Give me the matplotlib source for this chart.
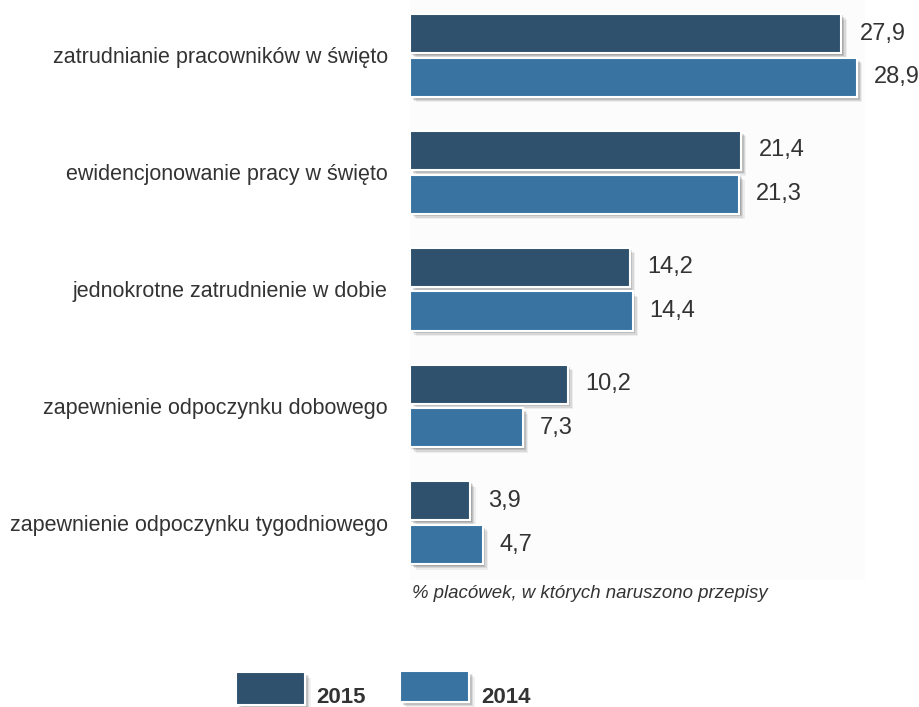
import matplotlib
matplotlib.use("Agg")
import matplotlib.pyplot as plt
import matplotlib.patheffects as pe
from matplotlib.patches import Rectangle
import numpy as np

plt.rcParams['font.family'] = ['Liberation Sans', 'DejaVu Sans']

categories = [
    "zatrudnianie pracowników w święto",
    "ewidencjonowanie pracy w święto",
    "jednokrotne zatrudnienie w dobie",
    "zapewnienie odpoczynku dobowego",
    "zapewnienie odpoczynku tygodniowego",
]
values_2015 = [27.9, 21.4, 14.2, 10.2, 3.9]
values_2014 = [28.9, 21.3, 14.4, 7.3, 4.7]
series_labels = ["2015", "2014"]
note = "% placówek, w których naruszono przepisy"

color_2015 = "#2f516d"
color_2014 = "#3873a1"
text_color = "#333333"

W, H = 920, 707
fig = plt.figure(figsize=(W / 100, H / 100), dpi=100)
fig.patch.set_facecolor("white")

# axes placed in pixel terms
ax_left, ax_right, ax_top, ax_bottom = 410, 865, 0, 580
ax = fig.add_axes([ax_left / W, 1 - ax_bottom / H,
                   (ax_right - ax_left) / W, (ax_bottom - ax_top) / H])
ax.set_facecolor("#fcfcfc")
ax.set_xlim(0, (ax_right - ax_left) / 15.46)
ax.set_ylim(4.49, -0.475)

y = np.arange(len(categories))
bar_h = 0.335
off = 0.187

# soft drop shadow built from a few stacked offsets
shadow = [pe.SimplePatchShadow(offset=(d, -d), shadow_rgbFace="black", alpha=a)
          for d, a in ((4, 0.06), (3, 0.09), (2, 0.12), (1, 0.12))] + [pe.Normal()]

b15 = ax.barh(y - off, values_2015, height=bar_h, color=color_2015,
              edgecolor="white", linewidth=1.5)
b14 = ax.barh(y + off, values_2014, height=bar_h, color=color_2014,
              edgecolor="white", linewidth=1.5)
for bar in list(b15) + list(b14):
    bar.set_path_effects(shadow)

def fmt(v):
    return f"{v:.1f}".replace(".", ",")

for yy, v in zip(y - off, values_2015):
    ax.annotate(fmt(v), (v, yy), xytext=(13, 0), textcoords="offset points",
                va="center", ha="left", fontsize=17, color=text_color,
                annotation_clip=False)
for yy, v in zip(y + off, values_2014):
    ax.annotate(fmt(v), (v, yy), xytext=(12, 0), textcoords="offset points",
                va="center", ha="left", fontsize=17, color=text_color,
                annotation_clip=False)

ax.set_yticks(y)
ax.set_yticklabels(categories, fontsize=15.5, color=text_color)
ax.tick_params(axis="y", length=0, pad=16)
ax.set_xticks([])
for s in ax.spines.values():
    s.set_visible(False)

fig.text(412 / W, 1 - 593 / H, note, fontsize=13.4, style="italic",
         color=text_color, ha="left", va="center")

# legend drawn in figure pixel coordinates
def legend_item(x0, y0, w, h, color, label, tx):
    r = Rectangle((x0 / W, 1 - (y0 + h) / H), w / W, h / H,
                  transform=fig.transFigure, facecolor=color,
                  edgecolor="white", linewidth=1.5)
    r.set_path_effects(shadow)
    fig.add_artist(r)
    fig.text(tx / W, 1 - 703 / H, label, fontsize=16, fontweight="bold",
             color=text_color, ha="left", va="baseline")

legend_item(236, 672, 69, 33, color_2015, series_labels[0], 316)
legend_item(400, 671, 69, 31, color_2014, series_labels[1], 481)

fig.savefig("out.png", dpi=100)
